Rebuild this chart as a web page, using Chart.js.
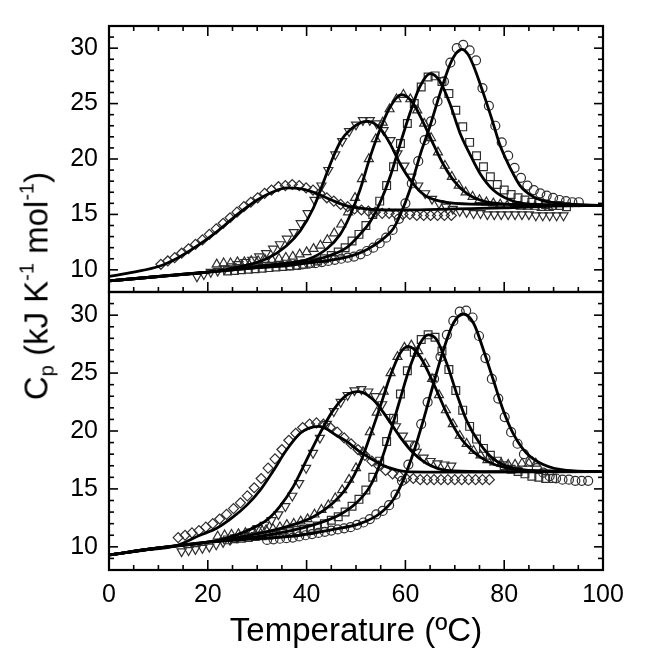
<!DOCTYPE html>
<html>
<head>
<meta charset="utf-8">
<script src="https://cdn.jsdelivr.net/npm/chart.js@4.4.1/dist/chart.umd.min.js"></script>
<style>
  html,body{margin:0;padding:0;background:#fff;}
  #wrap{position:relative;width:652px;height:652px;background:#fff;overflow:hidden;}
  canvas{position:absolute;left:0;top:0;}
  #ytitle{position:absolute;left:37px;top:286px;transform:translate(-50%,-50%) rotate(-90deg);
    white-space:nowrap;font-family:"Liberation Sans",Arial,sans-serif;font-size:33px;color:#000;}
  #ytitle sub,#ytitle sup{font-size:20px;}
  #ytitle sub{vertical-align:-6px;}
  #ytitle sup{vertical-align:14px;}
</style>
</head>
<body>
<div id="wrap">
  <canvas id="c1" width="652" height="652"></canvas>
  <canvas id="c2" width="652" height="652"></canvas>
  <div id="ytitle">C<sub>p</sub> (kJ K<sup>-1</sup> mol<sup>-1</sup>)</div>
</div>
<script>
// ---------------- TOP PANEL ----------------
// fitted curves
const topDiamondFitT  = [0,5,10,14,18,22,26,30,33,36,39,42,45,48,52,56,60,70,80,90,100];
const topDiamondFitCp = [9.4,9.8,10.3,11.1,12.2,13.5,15.0,16.3,17.0,17.4,17.3,16.9,16.3,15.8,15.5,15.4,15.4,15.5,15.6,15.75,15.8];
const topDownFitT  = [0,10,20,25.2,31.9,36,38.7,41.4,43.4,45.4,47,49,51,52.5,55,57,59,61.5,64,67,70,80,100];
const topDownFitCp = [9.0,9.4,9.8,10.15,11.0,12.2,13.5,15.6,17.9,20.2,21.7,22.7,23.3,23.4,22.7,21.3,19.5,17.8,16.7,16.2,16.0,15.9,15.8];
const topUpFitT  = [0,10,20,30,36,40,44.1,46.8,48.8,50.8,52.8,54.9,56.9,59.2,61.6,63.6,65.7,67.7,69.7,72.4,75.8,82,100];
const topUpFitCp = [9.0,9.4,9.8,10.3,10.6,10.9,11.9,13.2,14.9,17.2,20.1,22.7,24.7,25.8,25.0,23.3,21.3,19.5,18.1,16.9,16.2,15.9,15.8];
const topSquareFitT  = [0,10,20,30,37.3,44.1,48.1,50.8,52.8,54.9,56.9,58.9,60.9,62.9,65,67,69,71,73.1,75.1,77.8,81.2,85.9,100];
const topSquareFitCp = [9.0,9.4,9.8,10.2,10.45,11.2,12.0,13.2,14.3,16.1,18.4,21.3,24.1,26.5,27.7,27.0,25.0,22.4,20.4,18.7,17.2,16.3,15.9,15.8];
const topCircleFitT  = [0,10,20,30,40,50,54.9,57.6,58.9,60.9,63,65,67,69,70.2,71.4,72.6,73.7,75.8,77.5,79.1,81.2,83.2,85.9,89.3,100];
const topCircleFitCp = [9.0,9.4,9.8,10.2,10.6,11.4,12.6,13.75,14.9,17.2,20.4,23.0,25.9,28.5,29.5,29.9,29.5,28.5,25.9,23.6,21.3,19.2,17.6,16.6,16.1,15.8];

// measured points
const topDiamondT  = [10.5,11.9,13.3,14.7,16.1,17.5,18.9,20.3,21.7,23.1,24.5,25.9,27.3,28.7,30.1,31.5,32.9,34.3,35.7,37.1,38.5,39.9,41.3,42.7,44.1,45.5,46.9,48.3,49.7,51.1,52.5,53.9,55.3,56.7,58.1,59.5,60.9,62.3,63.7,65.1,66.5,67.9,69.3];
const topDiamondCp = [10.5,10.8,11.1,11.5,11.9,12.3,12.7,13.2,13.7,14.2,14.7,15.2,15.7,16.1,16.5,16.9,17.2,17.5,17.6,17.7,17.6,17.4,17.2,16.9,16.5,16.2,15.9,15.7,15.5,15.4,15.3,15.2,15.1,15.1,15.0,15.0,15.0,14.9,14.9,14.9,14.9,14.9,14.9];
const topDownT  = [17.8,19.2,20.6,22.0,23.4,24.8,26.2,27.6,29.0,30.4,31.8,33.2,34.6,36.0,37.4,38.8,40.2,41.6,43.0,44.4,45.8,47.2,48.6,50.0,51.4,52.8,54.2,55.6,57.0,58.4,59.8,61.2,62.6,64.0,65.4,66.8,68.2,69.6,71.0,72.4,73.8,75.2,76.6,78.0,79.4,80.8,82.2,83.6,85.0,86.4,87.8,89.2,90.6,92.0];
const topDownCp = [9.4,9.6,9.8,9.9,10.1,10.3,10.5,10.7,10.9,11.2,11.5,11.9,12.3,12.8,13.4,14.2,15.1,16.3,17.6,19.0,20.4,21.6,22.5,23.1,23.5,23.5,23.2,22.6,21.7,20.5,19.4,18.4,17.6,16.9,16.4,16.0,15.7,15.5,15.3,15.2,15.1,15.1,15.0,15.0,15.0,15.0,15.0,15.0,15.0,14.9,14.9,14.9,14.9,14.9];
const topUpT  = [21.8,23.2,24.6,26.0,27.4,28.8,30.2,31.6,33.0,34.4,35.8,37.2,38.6,40.0,41.4,42.8,44.2,45.6,47.0,48.4,49.8,51.2,52.6,54.0,55.4,56.8,58.2,59.6,61.0,62.4,63.8,65.2,66.6,68.0,69.4,70.8,72.2,73.6,75.0,76.4,77.8,79.2,80.6,82.0,83.4,84.8,86.2,87.6,89.0];
const topUpCp = [10.5,10.6,10.6,10.7,10.7,10.8,10.8,10.9,10.9,11.0,11.1,11.2,11.4,11.6,11.9,12.2,12.7,13.3,14.1,15.2,16.5,18.2,20.0,21.8,23.3,24.5,25.4,25.8,25.4,24.4,23.2,21.9,20.6,19.4,18.4,17.6,17.0,16.6,16.3,16.1,16.0,15.9,15.8,15.8,15.7,15.7,15.7,15.6,15.6];
const topSquareT  = [24.0,25.4,26.8,28.2,29.6,31.0,32.4,33.8,35.2,36.6,38.0,39.4,40.8,42.2,43.6,45.0,46.4,47.8,49.2,50.6,52.0,53.4,54.8,56.2,57.6,59.0,60.4,61.8,63.2,64.6,66.0,67.4,68.8,70.2,71.6,73.0,74.4,75.8,77.2,78.6,80.0,81.4,82.8,84.2,85.6,87.0,88.4,89.8,91.2,92.6];
const topSquareCp = [9.9,9.95,10.0,10.05,10.1,10.15,10.2,10.25,10.3,10.35,10.4,10.5,10.6,10.8,11.0,11.3,11.6,12.0,12.6,13.2,14.0,15.0,16.2,17.6,19.3,21.4,23.2,25.0,26.5,27.4,27.5,27.0,25.9,24.4,22.9,21.5,20.3,19.3,18.4,17.7,17.2,16.8,16.5,16.3,16.1,16.0,15.9,15.8,15.8,15.7];
const topCircleT  = [36.6,37.9,39.2,40.5,41.8,43.1,44.4,45.7,47.0,48.3,49.6,50.9,52.2,53.5,54.8,56.1,57.4,58.7,60.0,61.3,62.6,63.9,65.2,66.5,67.8,69.1,70.4,71.7,73.0,74.3,75.6,76.9,78.2,79.5,80.8,82.1,83.4,84.7,86.0,87.3,88.6,89.9,91.2,92.5,93.8,95.1];
const topCircleCp = [10.4,10.45,10.5,10.55,10.6,10.7,10.8,10.9,11.0,11.1,11.2,11.4,11.7,12.0,12.4,12.9,13.6,14.6,16.0,17.8,19.8,21.7,23.4,25.2,27.0,28.7,30.0,30.3,29.8,28.9,26.4,24.8,23.0,21.5,20.3,19.2,18.3,17.6,17.2,16.9,16.7,16.5,16.3,16.2,16.1,16.1];

// ---------------- BOTTOM PANEL ----------------
const botDiamondFitT  = [0,7,13.7,18.4,21.8,25.2,27.9,30.6,33.3,36,38.7,40.5,42.4,44,45.4,48.1,50.8,53.5,56.2,60.3,70,100];
const botDiamondFitCp = [9.3,9.7,10.1,11.0,11.6,12.6,13.6,14.9,16.6,18.4,19.8,20.25,20.4,20.2,19.8,19.1,18.2,17.5,16.9,16.5,16.45,16.5];
const botDownFitT  = [0,10,18.4,23.8,28.5,31.9,34.6,37.3,40,42.7,45.4,48.1,50.5,53.5,56.2,58.9,61.6,64.3,68.4,75,100];
const botDownFitCp = [9.3,9.9,10.3,10.75,11.5,12.3,13.5,15.2,17.5,19.8,21.8,23.1,23.4,22.7,21.2,19.5,18.1,17.2,16.6,16.5,16.5];
const botUpFitT  = [0,10,18.4,28.5,36,41.4,45.4,48.1,50.8,52.8,54.9,56.9,58.9,60.6,63,65.7,68.4,71,73.8,76.5,80.5,88,100];
const botUpFitCp = [9.3,9.9,10.3,11.0,11.75,12.6,13.8,15.1,17.2,19.5,22.1,24.7,26.7,27.3,26.4,24.1,21.5,19.5,18.2,17.4,16.8,16.55,16.5];
const botSquareFitT  = [0,10,20,31.9,41.4,46.8,50.1,52.8,54.9,56.9,58.9,60.9,63,64.6,66.3,68.4,70.4,72.4,75.1,77.8,81.8,88,100];
const botSquareFitCp = [9.3,9.9,10.4,11.0,11.9,12.8,13.8,15.2,17.2,19.8,22.7,25.5,27.6,28.3,27.9,25.8,23.2,20.9,18.9,17.6,16.8,16.55,16.5];
const botCircleFitT  = [0,10,20,30,38.7,45.4,50.8,54.9,57.6,59.6,61.6,63.6,65.7,67.7,69.7,71.7,73.8,75.8,77.8,79.8,81.8,84.5,87.9,92.6,100];
const botCircleFitCp = [9.3,9.9,10.4,10.7,11.0,11.5,12.0,12.9,14.1,15.8,18.1,20.9,24.1,27.0,29.3,30.1,29.3,27.0,24.4,21.8,19.8,18.1,17.1,16.6,16.5];

const botDiamondT  = [14.0,15.4,16.8,18.2,19.6,21.0,22.4,23.8,25.2,26.6,28.0,29.4,30.8,32.2,33.6,35.0,36.4,37.8,39.2,40.6,42.0,43.4,44.8,46.2,47.6,49.0,50.4,51.8,53.2,54.6,56.0,57.4,58.8,60.2,61.6,63.0,64.4,65.8,67.2,68.6,70.0,71.4,72.8,74.2,75.6,77.0];
const botDiamondCp = [10.8,11.0,11.2,11.4,11.7,12.0,12.4,12.8,13.3,13.8,14.4,15.1,15.9,16.8,17.6,18.4,19.2,19.8,20.3,20.6,20.7,20.6,20.3,19.9,19.4,18.9,18.4,17.9,17.4,17.0,16.6,16.3,16.1,15.9,15.9,15.8,15.8,15.8,15.8,15.8,15.8,15.8,15.8,15.8,15.8,15.8];
const botDownT  = [14.7,16.1,17.5,18.9,20.3,21.7,23.1,24.5,25.9,27.3,28.7,30.1,31.5,32.9,34.3,35.7,37.1,38.5,39.9,41.3,42.7,44.1,45.5,46.9,48.3,49.7,51.1,52.5,53.9,55.3,56.7,58.1,59.5,60.9,62.3,63.7,65.1,66.5,67.9,69.3];
const botDownCp = [9.6,9.7,9.8,9.9,10.0,10.2,10.4,10.6,10.8,11.0,11.3,11.6,11.9,12.3,12.8,13.5,14.4,15.5,16.8,18.1,19.4,20.6,21.7,22.5,23.1,23.5,23.6,23.4,23.0,22.3,21.2,20.4,19.6,18.9,18.2,17.7,17.4,17.2,17.1,17.0];
const botUpT  = [22.0,23.4,24.8,26.2,27.6,29.0,30.4,31.8,33.2,34.6,36.0,37.4,38.8,40.2,41.6,43.0,44.4,45.8,47.2,48.6,50.0,51.4,52.8,54.2,55.6,57.0,58.4,59.8,61.2,62.6,64.0,65.4,66.8,68.2,69.6,71.0,72.4,73.8,75.2,76.6,78.0,79.4,80.8,82.2,83.6,85.0,86.4];
const botUpCp = [10.9,11.0,11.05,11.1,11.2,11.3,11.35,11.45,11.55,11.7,11.9,12.0,12.2,12.4,12.8,13.2,13.6,14.2,14.9,15.8,16.8,18.2,19.9,21.6,23.4,25.0,26.4,27.2,27.4,26.9,25.8,24.5,23.1,21.8,20.6,19.6,18.9,18.3,17.9,17.5,17.3,17.2,17.1,17.1,17.2,17.2,17.2];
const botSquareT  = [24.0,25.4,26.8,28.2,29.6,31.0,32.4,33.8,35.2,36.6,38.0,39.4,40.8,42.2,43.6,45.0,46.4,47.8,49.2,50.6,52.0,53.4,54.8,56.2,57.6,59.0,60.4,61.8,63.2,64.6,66.0,67.4,68.8,70.2,71.6,73.0,74.4,75.8,77.2,78.6,80.0,81.4,82.8,84.2,85.6,87.0,88.4,89.8];
const botSquareCp = [10.6,10.7,10.75,10.8,10.9,10.95,11.0,11.1,11.2,11.3,11.4,11.5,11.6,11.8,12.0,12.3,12.6,13.0,13.5,14.1,14.9,16.0,17.4,19.1,21.1,23.2,25.2,26.8,27.9,28.3,28.1,26.9,25.3,23.5,21.8,20.4,19.3,18.5,17.9,17.4,17.0,16.7,16.5,16.3,16.1,16.0,15.9,15.9];
const botCircleT  = [32.0,33.3,34.6,35.9,37.2,38.5,39.8,41.1,42.4,43.7,45.0,46.3,47.6,48.9,50.2,51.5,52.8,54.1,55.4,56.7,58.0,59.3,60.6,61.9,63.2,64.5,65.8,67.1,68.4,69.7,71.0,72.3,73.6,74.9,76.2,77.5,78.8,80.1,81.4,82.7,84.0,85.3,86.6,87.9,89.2,90.5,91.8,93.1,94.4,95.7,97.0];
const botCircleCp = [10.6,10.65,10.7,10.75,10.8,10.9,11.0,11.1,11.2,11.3,11.4,11.5,11.6,11.7,11.9,12.1,12.4,12.8,13.1,13.6,14.5,15.7,17.1,18.7,20.6,22.5,24.5,26.4,28.3,29.5,30.3,30.4,29.8,28.2,26.3,24.5,22.8,21.2,19.9,18.9,18.0,17.4,16.8,16.4,16.1,15.9,15.8,15.8,15.7,15.7,15.7];

// axis tick values
const xTickValues = [0,20,40,60,80,100];
const yTickValues = [10,15,20,25,30];

// ---------------- helpers ----------------
const FONT = '"Liberation Sans", Arial, Helvetica, sans-serif';
const pts = (xs, ys) => xs.map((x, i) => ({x: x, y: ys[i]}));
const fitDs = (label, xs, ys) => ({
  label, data: pts(xs, ys), showLine: true, pointRadius: 0, borderColor: '#000',
  borderWidth: 2.8, cubicInterpolationMode: 'monotone', fill: false, order: 0
});
const markDs = (label, xs, ys, style, rot, r) => ({
  label, data: pts(xs, ys), showLine: false, pointStyle: style, pointRotation: rot || 0,
  pointRadius: r, pointBorderColor: '#2e2e2e', pointBackgroundColor: 'rgba(0,0,0,0)',
  pointBorderWidth: 1.2, borderColor: '#2e2e2e', backgroundColor: 'rgba(0,0,0,0)', order: 1
});

const frameTicks = {
  id: 'frameTicks',
  afterDatasetsDraw(chart, args, opts) {
    const {ctx, chartArea: a} = chart;
    const x = chart.scales.x, y = chart.scales.y;
    ctx.save();
    ctx.strokeStyle = '#000';
    const seg = (x1, y1, x2, y2) => { ctx.beginPath(); ctx.moveTo(x1, y1); ctx.lineTo(x2, y2); ctx.stroke(); };
    ctx.lineWidth = 1.6;
    for (let v = 9; v <= 31; v++) {
      const py = y.getPixelForValue(v);
      const L = (v % 5 === 0) ? 9 : 5;
      seg(a.left, py, a.left + L, py);
      seg(a.right, py, a.right - L, py);
    }
    for (let v = 5; v < 100; v += 5) {
      const px = x.getPixelForValue(v);
      const L = (v % 20 === 0) ? 10 : 5;
      if (opts.bottom) seg(px, a.bottom, px, a.bottom - L);
      if (opts.top) seg(px, a.top, px, a.top + L);
    }
    ctx.lineWidth = 2.2;
    ctx.strokeRect(a.left, a.top, a.right - a.left, a.bottom - a.top);
    ctx.restore();
  }
};

const yScale = () => ({
  type: 'linear', min: 8, max: 32,
  afterFit: s => { s.width = 109; },
  afterBuildTicks: s => { s.ticks = yTickValues.map(v => ({value: v})); },
  grid: {display: false, drawTicks: false}, border: {display: false},
  ticks: {color: '#000', font: {family: FONT, size: 25}, padding: 11}
});

Chart.defaults.animation = false;

new Chart(document.getElementById('c1'), {
  type: 'scatter',
  data: {datasets: [
    fitDs('top diamond fit', topDiamondFitT, topDiamondFitCp),
    fitDs('top down-triangle fit', topDownFitT, topDownFitCp),
    fitDs('top up-triangle fit', topUpFitT, topUpFitCp),
    fitDs('top square fit', topSquareFitT, topSquareFitCp),
    fitDs('top circle fit', topCircleFitT, topCircleFitCp),
    markDs('top diamond', topDiamondT, topDiamondCp, 'rectRot', 0, 5),
    markDs('top down-triangle', topDownT, topDownCp, 'triangle', 180, 5.2),
    markDs('top up-triangle', topUpT, topUpCp, 'triangle', 0, 5.2),
    markDs('top square', topSquareT, topSquareCp, 'rect', 0, 5.5),
    markDs('top circle', topCircleT, topCircleCp, 'circle', 0, 4.5)
  ]},
  options: {
    responsive: false, devicePixelRatio: 1, animation: false,
    layout: {padding: {left: 0, right: 49, top: 15, bottom: 360}},
    plugins: {legend: {display: false}, tooltip: {enabled: false}, frameTicks: {top: true, bottom: true}},
    scales: {
      x: {type: 'linear', min: 0, max: 100, display: false},
      y: yScale()
    }
  },
  plugins: [frameTicks]
});

new Chart(document.getElementById('c2'), {
  type: 'scatter',
  data: {datasets: [
    fitDs('bottom diamond fit', botDiamondFitT, botDiamondFitCp),
    fitDs('bottom down-triangle fit', botDownFitT, botDownFitCp),
    fitDs('bottom up-triangle fit', botUpFitT, botUpFitCp),
    fitDs('bottom square fit', botSquareFitT, botSquareFitCp),
    fitDs('bottom circle fit', botCircleFitT, botCircleFitCp),
    markDs('bottom diamond', botDiamondT, botDiamondCp, 'rectRot', 0, 5),
    markDs('bottom down-triangle', botDownT, botDownCp, 'triangle', 180, 5.2),
    markDs('bottom up-triangle', botUpT, botUpCp, 'triangle', 0, 5.2),
    markDs('bottom square', botSquareT, botSquareCp, 'rect', 0, 5.5),
    markDs('bottom circle', botCircleT, botCircleCp, 'circle', 0, 4.5)
  ]},
  options: {
    responsive: false, devicePixelRatio: 1, animation: false,
    layout: {padding: {left: 0, right: 49, top: 292, bottom: 0}},
    plugins: {legend: {display: false}, tooltip: {enabled: false}, frameTicks: {top: false, bottom: true}},
    scales: {
      x: {
        type: 'linear', min: 0, max: 100,
        afterFit: s => { s.height = 82; },
        afterBuildTicks: s => { s.ticks = xTickValues.map(v => ({value: v})); },
        grid: {display: false, drawTicks: false}, border: {display: false},
        ticks: {color: '#000', font: {family: FONT, size: 25}, padding: 10, maxRotation: 0},
        title: {display: true, text: 'Temperature (ºC)', color: '#000',
                font: {family: FONT, size: 33, lineHeight: 1.0}, padding: {top: 0, bottom: 4}}
      },
      y: yScale()
    }
  },
  plugins: [frameTicks]
});
</script>
</body>
</html>
